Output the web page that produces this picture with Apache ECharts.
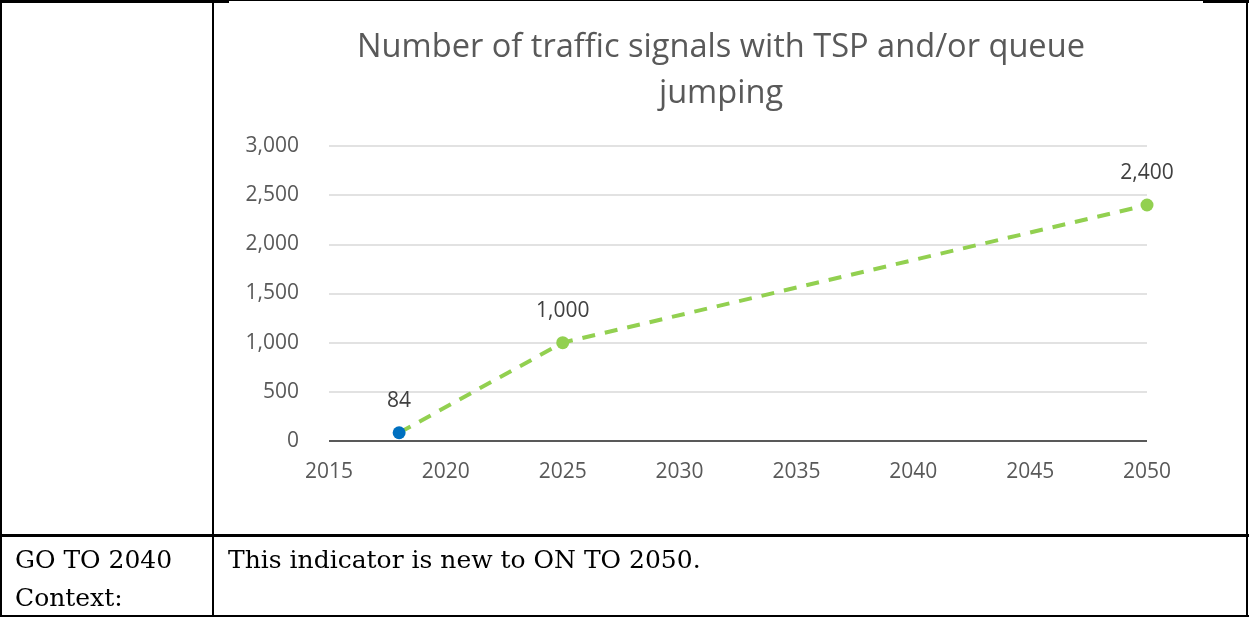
<!DOCTYPE html>
<html>
<head>
<meta charset="utf-8">
<script src="https://cdn.jsdelivr.net/npm/echarts@6/dist/echarts.min.js"></script>
<style type="text/css">
html, body{margin:0; padding:0; background:#fff; width:1249px; height:617px; overflow:hidden}
.line{position:absolute; background:#000}
.cell{position:absolute; font-family:"DejaVu Serif", serif; font-size:25px; color:#000; line-height:38px}
#chart{position:absolute; left:0; top:0; width:1249px; height:617px}
</style>
</head>
<body>
<div id="chart"></div>
<!-- table borders -->
<div class="line" style="left:0;top:0;width:229px;height:3px"></div>
<div class="line" style="left:229px;top:0;width:974px;height:1px"></div>
<div class="line" style="left:1203px;top:0;width:46px;height:3px"></div>
<div class="line" style="left:0;top:0;width:2px;height:617px"></div>
<div class="line" style="left:212px;top:0;width:2px;height:617px"></div>
<div class="line" style="left:1246px;top:0;width:2px;height:617px"></div>
<div class="line" style="left:0;top:534px;width:1249px;height:3px"></div>
<div class="line" style="left:0;top:615px;width:1249px;height:2px"></div>
<div class="cell" style="left:15px;top:541px">GO TO 2040<br>Context:</div>
<div class="cell" style="left:228px;top:541px">This indicator is new to ON TO 2050.</div>

<script type="text/javascript">
var titleText = 'Number of traffic signals with TSP and/or queue\njumping';
var yTicks = [0, 500, 1000, 1500, 2000, 2500, 3000];
var actualYears = [2018];
var actualValues = [84];
var targetYears = [2018, 2025, 2050];
var targetValues = [84, 1000, 2400];

var chart = echarts.init(document.getElementById('chart'));
var fmt = function (p) { return p.value[1].toLocaleString('en-US'); };
var labelStyle = {show: true, position: 'top', distance: 15, color: '#404040', fontSize: 21, fontFamily: 'Open Sans', formatter: fmt};

var targetData = targetYears.map(function (y, i) {
    var item = {value: [y, targetValues[i]]};
    if (i === 0) {
        item.symbol = 'none';
        item.label = {show: false};
    }
    return item;
});

option = {
    animation: false,
    title: {
        text: titleText,
        left: 716,
        top: 20,
        textAlign: 'center',
        textStyle: {color: '#595959', fontSize: 32.6, fontWeight: 'normal', fontFamily: 'Open Sans', lineHeight: 46}
    },
    grid: {left: 329, right: 102, top: 146, bottom: 176, containLabel: false},
    xAxis: {
        type: 'value',
        min: 2015,
        max: 2050,
        interval: 5,
        axisLine: {show: false},
        axisTick: {show: false},
        splitLine: {show: false},
        axisLabel: {color: '#595959', fontSize: 21, fontFamily: 'Open Sans', margin: 21,
            formatter: function (v) { return String(v); }}
    },
    yAxis: {
        type: 'value',
        min: yTicks[0],
        max: yTicks[yTicks.length - 1],
        interval: 500,
        axisLine: {show: false},
        axisTick: {show: false},
        splitLine: {lineStyle: {color: '#d9d9d9', width: 1.5}},
        axisLabel: {
            color: '#595959', fontSize: 21, fontFamily: 'Open Sans', margin: 30,
            formatter: function (v) { return v.toLocaleString('en-US'); }
        }
    },
    series: [
        {
            name: 'Target',
            type: 'line',
            data: targetData,
            symbol: 'circle',
            symbolSize: 13,
            lineStyle: {color: '#92d050', width: 4, type: [13, 10]},
            itemStyle: {color: '#92d050'},
            label: labelStyle,
            z: 3
        },
        {
            name: 'Actual',
            type: 'line',
            data: actualYears.map(function (y, i) { return [y, actualValues[i]]; }),
            symbol: 'circle',
            symbolSize: 13,
            itemStyle: {color: '#0070c0'},
            label: labelStyle,
            z: 4,
            markLine: {
                silent: true,
                symbol: 'none',
                label: {show: false},
                lineStyle: {color: '#595959', width: 2, type: 'solid'},
                data: [{yAxis: 0}]
            }
        }
    ]
};
chart.setOption(option, true);
</script>
</body>
</html>
